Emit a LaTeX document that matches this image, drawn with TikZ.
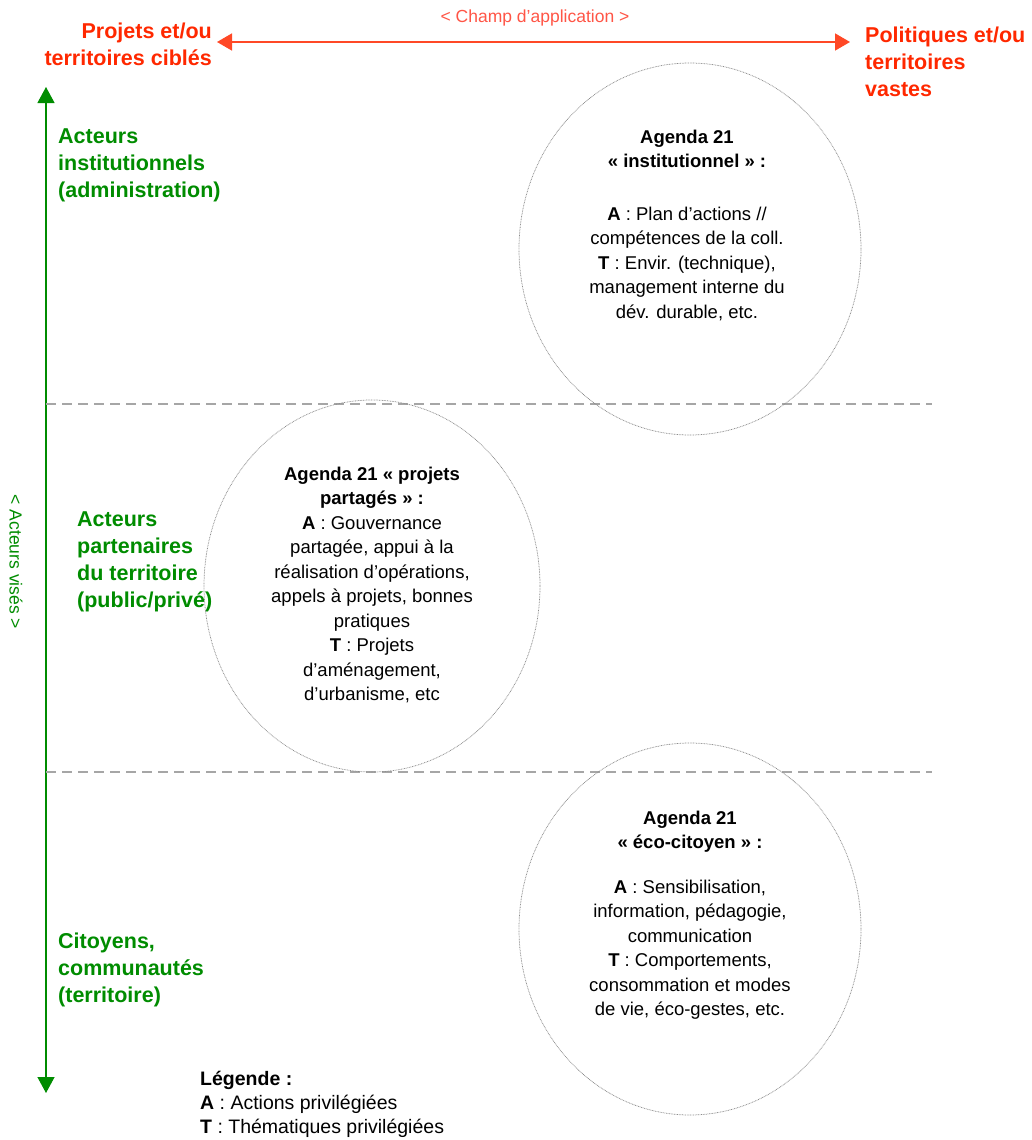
\documentclass[tikz,border=0pt]{standalone}
\usepackage{fontspec}
\setmainfont{Liberation Sans}
\usetikzlibrary{arrows.meta,shapes.geometric}

\definecolor{axisred}{RGB}{255,40,0}
\definecolor{champred}{RGB}{255,85,70}
\definecolor{axisgreen}{RGB}{0,140,0}

\begin{document}
\begin{tikzpicture}[x=1pt,y=-1pt,inner sep=0pt]

    \tikzstyle{zone}=[ellipse,draw=black!45,dash pattern=on 0.8pt off 0.8pt,line width=0.75pt,minimum width=342pt,minimum height=372pt]
    \tikzstyle{bloc}=[align=center,font=\fontsize{18.5}{24.5}\selectfont]
    \tikzstyle{acteur}=[align=left,anchor=west,text=axisgreen,font=\fontsize{21.5}{27}\selectfont\bfseries]
    \tikzstyle{champ}=[text=axisred,font=\fontsize{21.5}{27}\selectfont\bfseries]
    \tikzstyle{limite}=[draw=black!35,line width=1.3pt,dash pattern=on 10pt off 6pt]

    \useasboundingbox (0,0) rectangle (1032,1140);

    % axes
    \coordinate (ciblés) at (217,42);
    \coordinate (vastes) at (850,42);
    \coordinate (haut)   at (46,87);
    \coordinate (bas)    at (46,1093);

    \draw[axisred!85,line width=1.6pt,{Triangle[width=17pt,length=15pt]}-{Triangle[width=17pt,length=15pt]}] (ciblés) -- (vastes);
    \draw[axisgreen,line width=1.2pt,{Triangle[width=17pt,length=16pt]}-{Triangle[width=17pt,length=16pt]}] (haut) -- (bas);

    \node[champ,align=right,anchor=east] (projets) at (212,44) {Projets et/ou\\territoires ciblés};
    \node[champ,align=left,anchor=west] (politiques) at (865,62) {Politiques et/ou\\territoires\\vastes};
    \node[text=champred,font=\fontsize{17.5}{20}\selectfont] (application) at (535,18) {< Champ d’application >};
    \node[text=axisgreen,rotate=-90,font=\fontsize{17.5}{20}\selectfont] (visés) at (16,562) {< Acteurs visés >};

    % bandes
    \draw[limite] (46,404) -- (932,404);
    \draw[limite] (46,772) -- (932,772);

    \node[acteur] (institution) at (58,165) {Acteurs\\institutionnels\\(administration)};
    \node[acteur] (partenaires) at (77,562) {Acteurs\\partenaires\\du territoire\\(public/privé)};
    \node[acteur] (citoyens) at (58,970) {Citoyens,\\communautés\\(territoire)};

    % agendas
    \node[zone] (inst) at (690,249) {};
    \node[zone,minimum width=336pt] (part) at (372,586) {};
    \node[zone] (eco) at (690,929) {};

    \node[bloc] (inst-txt) at (687,225) {\textbf{Agenda 21}\\\textbf{« institutionnel » :}\\[28pt]\textbf{A} : Plan d’actions //\\compétences de la coll.\\\textbf{T} : Envir. (technique),\\management interne du\\dév. durable, etc.};
    \node[bloc] (part-txt) at (372,585) {\textbf{Agenda 21 « projets}\\\textbf{partagés » :}\\\textbf{A} : Gouvernance\\partagée, appui à la\\réalisation d’opérations,\\appels à projets, bonnes\\pratiques\\\textbf{T} : Projets\\d’aménagement,\\d’urbanisme, etc};
    \node[bloc] (eco-txt) at (690,915) {\textbf{Agenda 21}\\\textbf{« éco-citoyen » :}\\[20pt]\textbf{A} : Sensibilisation,\\information, pédagogie,\\communication\\\textbf{T} : Comportements,\\consommation et modes\\de vie, éco-gestes, etc.};

    \node[align=left,anchor=west,font=\fontsize{19.5}{24}\selectfont] (légende) at (200,1104) {\textbf{Légende :}\\\textbf{A} : Actions privilégiées\\\textbf{T} : Thématiques privilégiées};

\end{tikzpicture}
\end{document}
